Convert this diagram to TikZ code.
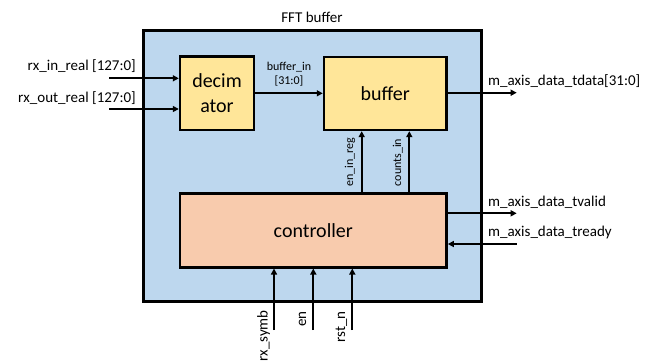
\documentclass[tikz,border=0pt]{standalone}
\usepackage{fontspec}
\setmainfont{Carlito}
\usetikzlibrary{arrows.meta}
\definecolor{shellblue}{HTML}{BDD7EE}
\definecolor{blockyellow}{HTML}{FFE699}
\definecolor{ctrlorange}{HTML}{F8CBAD}
\tikzset{
  blk/.style={draw=black, line width=2.4pt, inner sep=0pt, font=\fontsize{20}{25}\selectfont, align=center},
  arr/.style={line width=1.8pt, -{Triangle[length=6pt,width=6pt]}},
  sig/.style={font=\fontsize{15}{18}\selectfont, inner sep=1pt},
  small/.style={font=\fontsize{12}{14}\selectfont, inner sep=1pt, align=center},
}
\begin{document}
\begin{tikzpicture}[x=1pt,y=-1pt]
\useasboundingbox (0,0) rectangle (646,360);
% enclosing module
\node[blk, fill=shellblue, minimum width=338pt, minimum height=271pt] (top) at (312.6,166.1) {};
\node[sig, anchor=center] (title) at (312,17) {FFT buffer};
% inner blocks
\node[blk, fill=blockyellow, minimum width=74pt, minimum height=73.3pt] (dec) at (217,93.3) {decim\\ator};
\node[blk, fill=blockyellow, minimum width=122.7pt, minimum height=72.7pt] (buf) at (385.3,93.6) {buffer};
\node[blk, fill=ctrlorange, minimum width=266.7pt, minimum height=74pt] (ctl) at (313.3,230.3) {controller};
% external inputs on the left
\coordinate (rxin) at (109,78.3);
\coordinate (rxout) at (109,109);
\draw[arr] (rxin) -- (rxin -| dec.west);
\draw[arr] (rxout) -- (rxout -| dec.west);
\node[sig, anchor=east] (lrxin) at (137,65.7) {rx\_in\_real [127:0]};
\node[sig, anchor=east] (lrxout) at (137,97.7) {rx\_out\_real [127:0]};
% decimator to buffer
\coordinate (bin) at (254,93.3);
\draw[arr] (bin) -- (bin -| buf.west);
\node[small] (lbin) at (289,74.5) {buffer\_in\\{}[31:0]};
% buffer output
\coordinate (tdata) at (516.7,92.7);
\draw[arr] (tdata -| buf.east) -- (tdata);
\node[sig, anchor=west] (ltdata) at (487,81) {m\_axis\_data\_tdata[31:0]};
% controller to buffer
\coordinate (enreg) at (361.7,0);
\coordinate (cnt) at (409.3,0);
\draw[arr] (enreg |- ctl.north) -- (enreg |- buf.south);
\draw[arr] (cnt |- ctl.north) -- (cnt |- buf.south);
\node[small, rotate=90] (lenreg) at (350,162.5) {en\_in\_reg};
\node[small, rotate=90] (lcnt) at (397.7,162.5) {counts\_in};
% handshake
\coordinate (tvalid) at (516.7,213.3);
\coordinate (tready) at (516.7,244);
\draw[arr] (tvalid -| ctl.east) -- (tvalid);
\draw[arr] (tready) -- (tready -| ctl.east);
\node[sig, anchor=west] (ltvalid) at (487,202.3) {m\_axis\_data\_tvalid};
\node[sig, anchor=west] (ltready) at (487,232.3) {m\_axis\_data\_tready};
% control inputs from below
\coordinate (symb) at (274,330);
\coordinate (en) at (313.3,330);
\coordinate (rst) at (352.3,330);
\draw[arr] (symb) -- (symb |- ctl.south);
\draw[arr] (en) -- (en |- ctl.south);
\draw[arr] (rst) -- (rst |- ctl.south);
\node[sig, rotate=90, anchor=east] (lsymb) at (263.5,309) {rx\_symb};
\node[sig, rotate=90, anchor=east] (len) at (302.5,310) {en};
\node[sig, rotate=90, anchor=east] (lrst) at (341.5,310) {rst\_n};
\end{tikzpicture}
\end{document}
